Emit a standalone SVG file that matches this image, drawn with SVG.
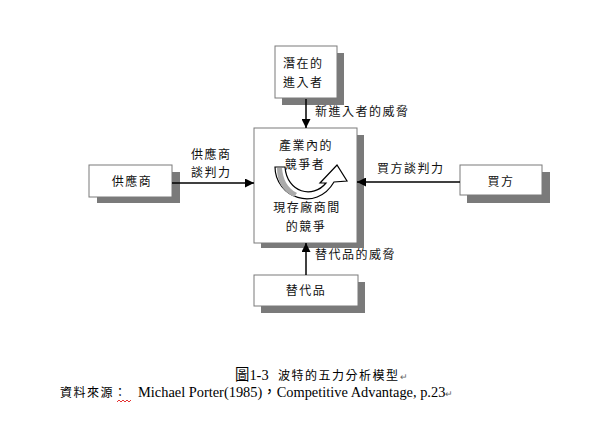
<svg xmlns="http://www.w3.org/2000/svg" width="600" height="422" viewBox="0 0 600 422">
<defs>
<style>
.box{fill:#fff;stroke:#7a7a7a;stroke-width:1}
.sh{fill:#7a7a7a}
.t{font-family:"Noto Sans CJK TC","Noto Sans CJK SC",sans-serif;font-size:12px;fill:#111;letter-spacing:1.5px}
.c{text-anchor:middle}
.ln{stroke:#000;stroke-width:1.5;fill:none}
.cap{font-family:"Liberation Serif","Noto Sans CJK TC",serif;font-size:14.4px;fill:#000}
.capz{font-family:"Noto Sans CJK TC","Noto Sans CJK SC",sans-serif;font-size:12px;fill:#000;letter-spacing:1.5px}
</style>
<marker id="ah" viewBox="0 0 10 10" refX="10" refY="5" markerWidth="9" markerHeight="9" markerUnits="userSpaceOnUse" orient="auto">
<path d="M0,0 L10,5 L0,10 Z" fill="#000"/>
</marker>
</defs>
<rect width="600" height="422" fill="#fff"/>

<g id="entrants">
<rect class="sh" x="282" y="53" width="62" height="52"/>
<rect class="box" x="275" y="46" width="62" height="52"/>
<text class="t" x="283" y="68">潛在的</text>
<text class="t" x="283" y="87">進入者</text>
</g>

<g id="suppliers">
<rect class="sh" x="97" y="172" width="83" height="31"/>
<rect class="box" x="89" y="165" width="83" height="32"/>
<text class="t c" x="132" y="186">供應商</text>
</g>

<g id="buyers">
<rect class="sh" x="467" y="172" width="83" height="31"/>
<rect class="box" x="460" y="165" width="82" height="30"/>
<text class="t c" x="501" y="186">買方</text>
</g>

<g id="substitutes">
<rect class="sh" x="261" y="282" width="104" height="31"/>
<rect class="box" x="254" y="275" width="104" height="31"/>
<text class="t c" x="306" y="295">替代品</text>
</g>

<g id="industry">
<rect class="sh" x="261" y="135" width="103" height="113"/>
<rect class="box" x="254" y="128" width="103" height="115"/>
<text class="t c" x="306" y="150">產業內的</text>
<path d="M275,167 C275,197 316,213 334,182 L347,181 L337,165 L320,183 L326,183 C313,199 287,193 285,167 Z" fill="#fff" stroke="#000" stroke-width="1.2"/>
<path d="M277,168 C277,181 282,191 294,197 L297,193 C287,188 283,179 282,168 Z" fill="#aaa"/>
<text class="t c" x="305" y="169">競爭者</text>
<text class="t c" x="307" y="212">現存廠商間</text>
<text class="t c" x="306" y="231">的競爭</text>
</g>

<g id="connectors">
<line class="ln" x1="306" y1="99" x2="306" y2="128" marker-end="url(#ah)"/>
<line class="ln" x1="172" y1="183" x2="254" y2="183" marker-end="url(#ah)"/>
<line class="ln" x1="460" y1="182" x2="357" y2="182" marker-end="url(#ah)"/>
<line class="ln" x1="306" y1="275" x2="306" y2="243" marker-end="url(#ah)"/>
<text class="t" x="315" y="116">新進入者的威脅</text>
<text class="t" x="191" y="159">供應商</text>
<text class="t" x="191" y="177">談判力</text>
<text class="t" x="377" y="173">買方談判力</text>
<text class="t" x="315" y="259">替代品的威脅</text>
</g>

<g id="caption">
<text class="cap" x="235" y="380" font-size="13">圖1-3</text>
<text class="capz" x="278" y="380">波特的五力分析模型<tspan fill="#666" font-size="9">↵</tspan></text>
<text class="capz" x="60" y="397">資料來源：</text>
<path d="M117,402 l2,-2 l2,2 l2,-2 l2,2 l2,-2 l2,2 l2,-2" fill="none" stroke="#d00" stroke-width="0.8"/>
<text class="cap" x="138" y="397">Michael Porter(1985)<tspan font-family="Noto Sans CJK TC">，</tspan>Competitive Advantage, p.23<tspan fill="#666" font-size="9">↵</tspan></text>
</g>
</svg>
